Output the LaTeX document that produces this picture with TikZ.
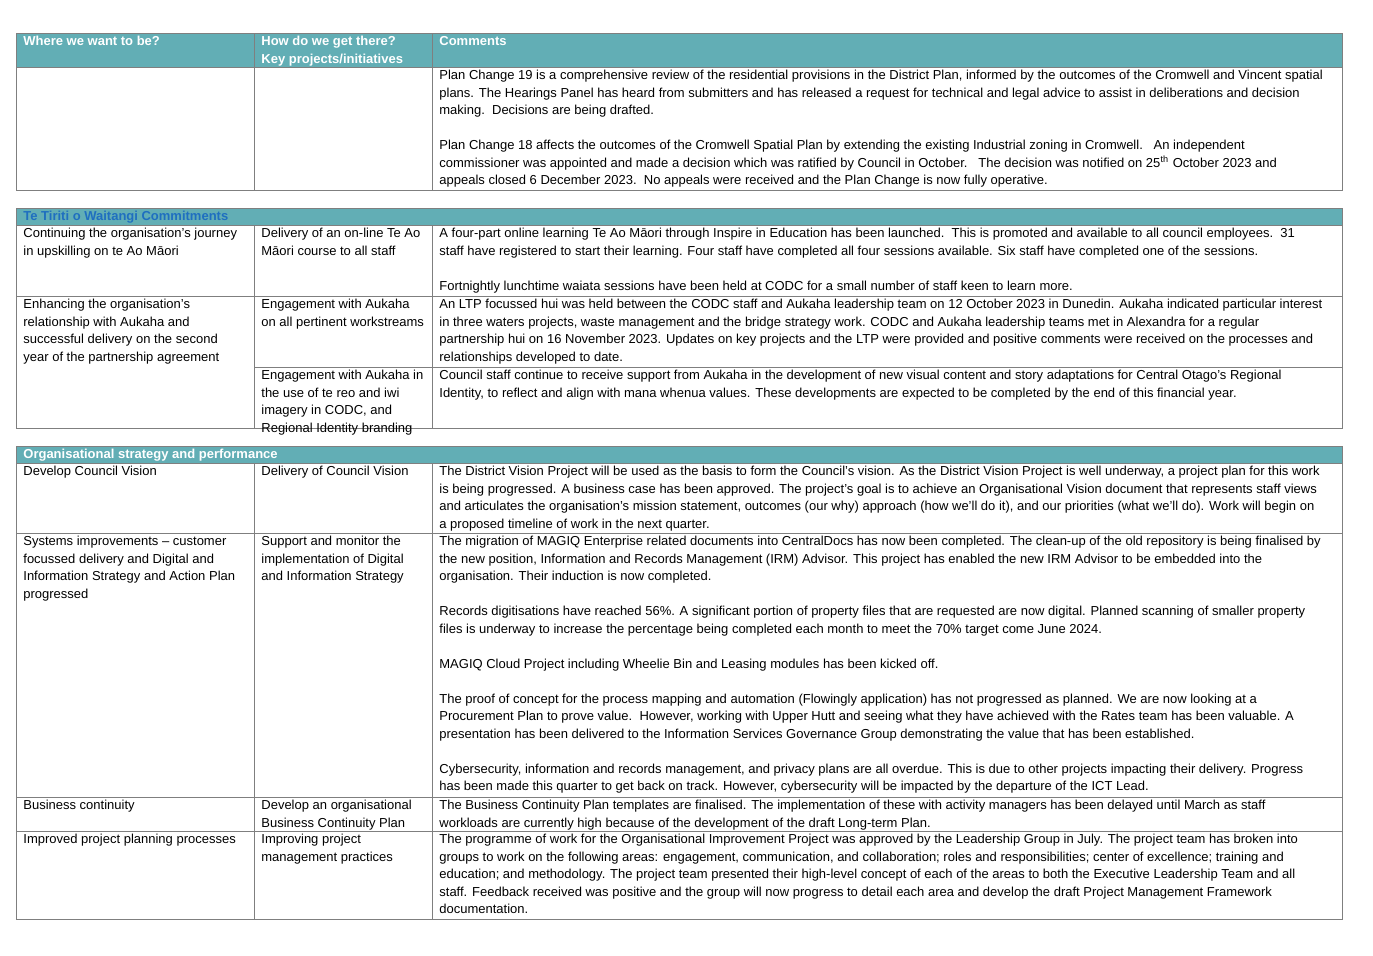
\documentclass[tikz,border=0pt]{standalone}
\usepackage{fontspec}
\setmainfont{Liberation Sans}
\definecolor{hdr}{HTML}{62AEB5}
\definecolor{hblue}{HTML}{1F6FC0}
\definecolor{grid}{HTML}{7F7F7F}
\begin{document}
\begin{tikzpicture}[x=0.5pt,y=-0.5pt,
  txt/.style={anchor=north west,inner sep=0pt,align=left,font=\fontsize{6.5}{8.75}\selectfont},
  htxt/.style={txt,text=white,font=\fontsize{6.5}{8.75}\selectfont\bfseries},
  gl/.style={draw=grid,line width=0.5pt}]
\useasboundingbox (0,0) rectangle (1373,955);
% ---------- Table 1
\fill[hdr] (16,33) rectangle (1342,67);
\draw[gl] (16,33) rectangle (1342,190);
\draw[gl] (16,67) -- (1342,67);
\draw[gl] (254,33) -- (254,190);
\draw[gl] (432,33) -- (432,190);
\node[htxt] (h1) at (23,36) {Where we want to be?};
\node[htxt] (h2) at (261,36) {How do we get there?\\Key projects/initiatives};
\node[htxt] (h3) at (439,36) {Comments};
\node[txt] (c1) at (439,70) {Plan Change 19 is a comprehensive review of the residential provisions in the District Plan, informed by the outcomes of the Cromwell and Vincent spatial\\plans. The Hearings Panel has heard from submitters and has released a request for technical and legal advice to assist in deliberations and decision\\making.\ \ Decisions are being drafted.\\[8.75pt]Plan Change 18 affects the outcomes of the Cromwell Spatial Plan by extending the existing Industrial zoning in Cromwell.\ \ \ An independent\\commissioner was appointed and made a decision which was ratified by Council in October.\ \ \ The decision was notified on 25\textsuperscript{th} October 2023 and\\appeals closed 6 December 2023.\ \ No appeals were received and the Plan Change is now fully operative.};
% ---------- Table 2
\fill[hdr] (16,208) rectangle (1342,225);
\draw[gl] (16,208) rectangle (1342,428);
\draw[gl] (16,225) -- (1342,225);
\draw[gl] (16,296) -- (1342,296);
\draw[gl] (254,367) -- (1342,367);
\draw[gl] (254,225) -- (254,428);
\draw[gl] (432,225) -- (432,428);
\node[txt,text=hblue,font=\fontsize{6.5}{8.75}\selectfont\bfseries] (t2) at (23,211) {Te Tiriti o Waitangi Commitments};
\node[txt] (a1) at (23,228) {Continuing the organisation’s journey\\in upskilling on te Ao Māori};
\node[txt] (a2) at (261,228) {Delivery of an on-line Te Ao\\Māori course to all staff};
\node[txt] (a3) at (439,228) {A four-part online learning Te Ao Māori through Inspire in Education has been launched.\ \ This is promoted and available to all council employees.\ \ 31\\staff have registered to start their learning. Four staff have completed all four sessions available. Six staff have completed one of the sessions.\\[8.75pt]Fortnightly lunchtime waiata sessions have been held at CODC for a small number of staff keen to learn more.};
\node[txt] (b1) at (23,299) {Enhancing the organisation’s\\relationship with Aukaha and\\successful delivery on the second\\year of the partnership agreement};
\node[txt] (b2) at (261,299) {Engagement with Aukaha\\on all pertinent workstreams};
\node[txt] (b3) at (439,299) {An LTP focussed hui was held between the CODC staff and Aukaha leadership team on 12 October 2023 in Dunedin. Aukaha indicated particular interest\\in three waters projects, waste management and the bridge strategy work. CODC and Aukaha leadership teams met in Alexandra for a regular\\partnership hui on 16 November 2023. Updates on key projects and the LTP were provided and positive comments were received on the processes and\\relationships developed to date.};
\node[txt] (d2) at (261,370) {Engagement with Aukaha in\\the use of te reo and iwi\\imagery in CODC, and\\Regional Identity branding};
\node[txt] (d3) at (439,370) {Council staff continue to receive support from Aukaha in the development of new visual content and story adaptations for Central Otago’s Regional\\Identity, to reflect and align with mana whenua values. These developments are expected to be completed by the end of this financial year.};
% ---------- Table 3
\fill[hdr] (16,446) rectangle (1342,463);
\draw[gl] (16,446) rectangle (1342,919);
\draw[gl] (16,463) -- (1342,463);
\draw[gl] (16,533) -- (1342,533);
\draw[gl] (16,797) -- (1342,797);
\draw[gl] (16,831) -- (1342,831);
\draw[gl] (254,463) -- (254,919);
\draw[gl] (432,463) -- (432,919);
\node[htxt] (t3) at (23,449) {Organisational strategy and performance};
\node[txt] (e1) at (23,466) {Develop Council Vision};
\node[txt] (e2) at (261,466) {Delivery of Council Vision};
\node[txt] (e3) at (439,466) {The District Vision Project will be used as the basis to form the Council’s vision. As the District Vision Project is well underway, a project plan for this work\\is being progressed. A business case has been approved. The project's goal is to achieve an Organisational Vision document that represents staff views\\and articulates the organisation’s mission statement, outcomes (our why) approach (how we’ll do it), and our priorities (what we’ll do). Work will begin on\\a proposed timeline of work in the next quarter.};
\node[txt] (f1) at (23,536) {Systems improvements – customer\\focussed delivery and Digital and\\Information Strategy and Action Plan\\progressed};
\node[txt] (f2) at (261,536) {Support and monitor the\\implementation of Digital\\and Information Strategy};
\node[txt] (f3) at (439,536) {The migration of MAGIQ Enterprise related documents into CentralDocs has now been completed. The clean-up of the old repository is being finalised by\\the new position, Information and Records Management (IRM) Advisor. This project has enabled the new IRM Advisor to be embedded into the\\organisation. Their induction is now completed.\\[8.75pt]Records digitisations have reached 56\%. A significant portion of property files that are requested are now digital. Planned scanning of smaller property\\files is underway to increase the percentage being completed each month to meet the 70\% target come June 2024.\\[8.75pt]MAGIQ Cloud Project including Wheelie Bin and Leasing modules has been kicked off.\\[8.75pt]The proof of concept for the process mapping and automation (Flowingly application) has not progressed as planned. We are now looking at a\\Procurement Plan to prove value.\ \ However, working with Upper Hutt and seeing what they have achieved with the Rates team has been valuable. A\\presentation has been delivered to the Information Services Governance Group demonstrating the value that has been established.\\[8.75pt]Cybersecurity, information and records management, and privacy plans are all overdue. This is due to other projects impacting their delivery. Progress\\has been made this quarter to get back on track. However, cybersecurity will be impacted by the departure of the ICT Lead.};
\node[txt] (g1) at (23,800) {Business continuity};
\node[txt] (g2) at (261,800) {Develop an organisational\\Business Continuity Plan};
\node[txt] (g3) at (439,800) {The Business Continuity Plan templates are finalised. The implementation of these with activity managers has been delayed until March as staff\\workloads are currently high because of the development of the draft Long-term Plan.};
\node[txt] (k1) at (23,834) {Improved project planning processes};
\node[txt] (k2) at (261,834) {Improving project\\management practices};
\node[txt] (k3) at (439,834) {The programme of work for the Organisational Improvement Project was approved by the Leadership Group in July. The project team has broken into\\groups to work on the following areas: engagement, communication, and collaboration; roles and responsibilities; center of excellence; training and\\education; and methodology. The project team presented their high-level concept of each of the areas to both the Executive Leadership Team and all\\staff. Feedback received was positive and the group will now progress to detail each area and develop the draft Project Management Framework\\documentation.};
\end{tikzpicture}
\end{document}
